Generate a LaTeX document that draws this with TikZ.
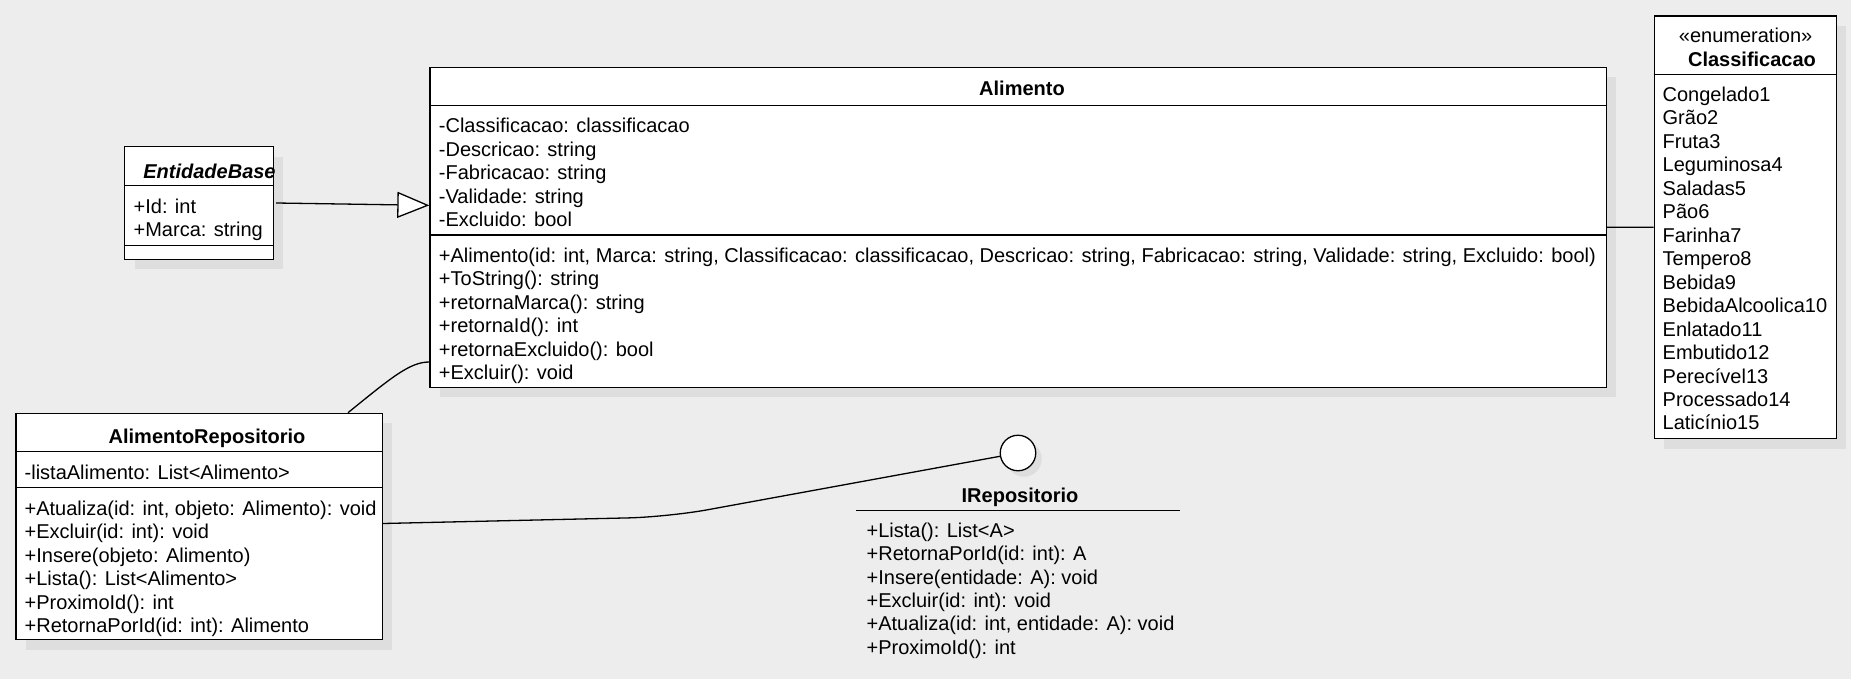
\documentclass[tikz,border=0pt]{standalone}
\usepackage{fontspec}
\setmainfont{Liberation Sans}
\usetikzlibrary{arrows.meta,shadows,positioning}
\definecolor{bgc}{RGB}{237,237,237}
\definecolor{shadowc}{RGB}{222,222,222}
\newcommand\umlsize{\fontsize{20pt}{23.5pt}\selectfont}
\tikzset{
  classbox/.style={draw, fill=white, inner sep=0pt, anchor=north west,
    drop shadow={shadow xshift=10pt, shadow yshift=-10pt, fill=shadowc, opacity=1}},
  member/.style={anchor=base west, inner sep=0pt},
  classname/.style={anchor=base, inner sep=0pt, font=\umlsize\bfseries},
}
\begin{document}
\begin{tikzpicture}[x=1pt, y=-1pt, line width=1.3pt, font=\umlsize]
\useasboundingbox (0,0) rectangle (1851,679);
\fill[bgc] (0,0) rectangle (1851,679);

% EntidadeBase
\node[classbox, minimum width=148.7pt, minimum height=112.7pt] (eb) at (124,146) {};
\draw (124,185.7) -- (272.7,185.7);
\draw (124,245.7) -- (272.7,245.7);
\node[classname, anchor=base west, font=\umlsize\bfseries\itshape] (ebname) at (142.7,178.9) {EntidadeBase};
\node[member] (eb0) at (133,213.6) {+Id: int};
\node[member] (eb1) at (133,236.4) {+Marca: string};

% Alimento
\node[classbox, minimum width=1176.4pt, minimum height=320pt] (alim) at (429.3,66.7) {};
\draw (429.3,105.7) -- (1605.7,105.7);
\draw (429.3,235) -- (1605.7,235);
\node[classname] (alimname) at (1022,95.8) {Alimento};
\foreach \txt [count=\i from 0] in {-Classificacao: classificacao, -Descricao: string,
    -Fabricacao: string, -Validade: string, -Excluido: bool}
  \node[member] (alima\i) at (438.3,{132.6+23.5*\i}) {\txt};
\foreach \txt [count=\i from 0] in {{+Alimento(id: int, Marca: string, Classificacao: classificacao, Descricao: string, Fabricacao: string, Validade: string, Excluido: bool)},
    +ToString(): string, +retornaMarca(): string, +retornaId(): int,
    +retornaExcluido(): bool, +Excluir(): void}
  \node[member] (alimm\i) at (438.3,{262.2+23.5*\i}) {\txt};

% AlimentoRepositorio
\node[classbox, minimum width=366.4pt, minimum height=226.3pt] (ar) at (15.3,412.7) {};
\draw (15.3,451.7) -- (381.7,451.7);
\draw (15.3,487.3) -- (381.7,487.3);
\node[classname] (arname) at (207,443.8) {AlimentoRepositorio};
\node[member] (ara0) at (24,479.6) {-listaAlimento: List<Alimento>};
\foreach \txt [count=\i from 0] in {{+Atualiza(id: int, objeto: Alimento): void},
    +Excluir(id: int): void, +Insere(objeto: Alimento), +Lista(): List<Alimento>,
    +ProximoId(): int, +RetornaPorId(id: int): Alimento}
  \node[member] (arm\i) at (24,{515.3+23.45*\i}) {\txt};

% IRepositorio
\node[circle, draw, fill=white, minimum size=35.5pt, inner sep=0pt,
  drop shadow={shadow xshift=6pt, shadow yshift=-6pt, fill=shadowc, opacity=1}] (iface) at (1018,453) {};
\node[classname] (ifname) at (1020,502.4) {IRepositorio};
\draw (856,510.6) -- (1179.6,510.6);
\foreach \txt [count=\i from 0] in {+Lista(): List<A>, {+RetornaPorId(id: int): A},
    {+Insere(entidade: A): void}, +Excluir(id: int): void,
    {+Atualiza(id: int, entidade: A): void}, +ProximoId(): int}
  \node[member] (ifm\i) at (866,{537.4+23.35*\i}) {\txt};

% Classificacao
\node[classbox, minimum width=182.3pt, minimum height=422.7pt] (cls) at (1653.5,15.3) {};
\draw (1653.5,74.4) -- (1835.8,74.4);
\node[anchor=base, inner sep=0pt] (stereo) at (1745.6,42.4) {«enumeration»};
\node[classname] (clsname) at (1752,66.2) {Classificacao};
\foreach \txt [count=\i from 0] in {Congelado1, Grão2, Fruta3, Leguminosa4, Saladas5,
    Pão6, Farinha7, Tempero8, Bebida9, BebidaAlcoolica10, Enlatado11, Embutido12,
    Perecível13, Processado14, Laticínio15}
  \node[member] (clsi\i) at (1662,{101.5+23.46*\i}) {\txt};

% connectors
\draw[-{Triangle[fill=white, length=32pt, width=26pt]}] ([xshift=2pt]eb.east) -- ([yshift=22pt]alim.west);
\draw (alim.east) -- (cls.west);
\draw ([xshift=-35pt]ar.north east) .. controls (392,377) and (410,362) .. ([yshift=26pt]alim.south west);
\draw[rounded corners=40pt] ([yshift=3pt]ar.east) -- (668,517) -- (iface);
\end{tikzpicture}
\end{document}
